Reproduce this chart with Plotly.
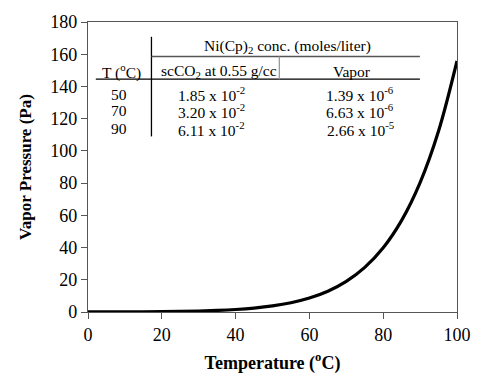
import plotly.graph_objects as go

# Vapor pressure curve
temperature_c = [0, 5, 10, 15, 20, 25, 30, 35, 40, 45, 50, 55, 60, 65, 70, 75, 80, 85, 90, 95, 100]
vapor_pressure_pa = [0.02, 0.04, 0.07, 0.13, 0.22, 0.37, 0.6, 0.97, 1.55, 2.43, 3.77, 5.75, 8.66, 12.9,
                     19.0, 27.7, 39.9, 56.9, 80.3, 112.3, 155.8]

# Table contents
table_temps = ["50", "70", "90"]
table_sc_mant = ["1.85", "3.20", "6.11"]
table_sc_exp = ["-2", "-2", "-2"]
table_vap_mant = ["1.39", "6.63", "2.66"]
table_vap_exp = ["-6", "-6", "-5"]

x_ticks = [0, 20, 40, 60, 80, 100]
y_ticks = [0, 20, 40, 60, 80, 100, 120, 140, 160, 180]

W, H = 483, 385
L, R, T, B = 88, 466, 18, 312

FONT = "Liberation Serif"


def px(x):
    return (x - L) / (R - L)


def py(y):
    return (B - y) / (B - T)


fig = go.Figure()
fig.add_trace(go.Scatter(
    x=temperature_c, y=vapor_pressure_pa, mode="lines",
    line=dict(color="black", width=3.2, shape="spline"),
    hoverinfo="skip", showlegend=False))

ann = []
tf = dict(family=FONT, size=15.5, color="black")


def txt(x, y, s):
    ann.append(dict(x=px(x), y=py(y), xref="paper", yref="paper", text=s,
                    showarrow=False, font=tf, xanchor="center", yanchor="middle"))


txt(292, 43, "Ni(Cp)<sub>2</sub> conc. (moles/liter)")
txt(122, 68, "T (<sup>o</sup>C)")
txt(222, 68, "scCO<sub>2</sub> at 0.55 g/cc")
txt(358, 68, "Vapor")
row_y = [91, 108, 126]
for i in range(3):
    txt(120, row_y[i], table_temps[i])
    txt(215, row_y[i], f"{table_sc_mant[i]} x 10<sup>{table_sc_exp[i]}</sup>")
    txt(367, row_y[i], f"{table_vap_mant[i]} x 10<sup>{table_vap_exp[i]}</sup>")

shapes = [
    dict(type="line", xref="paper", yref="paper", x0=px(153), x1=px(153), y0=py(33), y1=py(134),
         line=dict(color="black", width=1.3)),
    dict(type="line", xref="paper", yref="paper", x0=px(153), x1=px(428), y0=py(53), y1=py(53),
         line=dict(color="#555", width=1.3)),
    dict(type="line", xref="paper", yref="paper", x0=px(96), x1=px(428), y0=py(76), y1=py(76),
         line=dict(color="black", width=1.3)),
    dict(type="line", xref="paper", yref="paper", x0=px(284), x1=px(284), y0=py(53), y1=py(76),
         line=dict(color="#999", width=1.3)),
]

axis_common = dict(showgrid=False, zeroline=False, showline=True, mirror=True,
                   linecolor="#555", linewidth=1.3, ticks="outside", ticklen=6,
                   tickcolor="#555", tickwidth=1.3,
                   tickfont=dict(family=FONT, size=18, color="black"))

fig.update_layout(
    width=W, height=H,
    margin=dict(l=L, r=W - R, t=T, b=H - B),
    paper_bgcolor="white", plot_bgcolor="white",
    font=dict(family=FONT, color="black"),
    xaxis=dict(range=[0, 100], tickvals=x_ticks, ticktext=[str(v) for v in x_ticks],
               title=dict(text="<b>Temperature (<sup>o</sup>C)</b>", standoff=12,
                          font=dict(family=FONT, size=18, color="black")),
               **axis_common),
    yaxis=dict(range=[0, 180], tickvals=y_ticks, ticktext=[str(v) for v in y_ticks],
               title=dict(text="<b>Vapor Pressure (Pa)</b>", standoff=14,
                          font=dict(family=FONT, size=17, color="black")),
               **axis_common),
    annotations=ann, shapes=shapes, showlegend=False,
)

fig.write_html("out.html")
